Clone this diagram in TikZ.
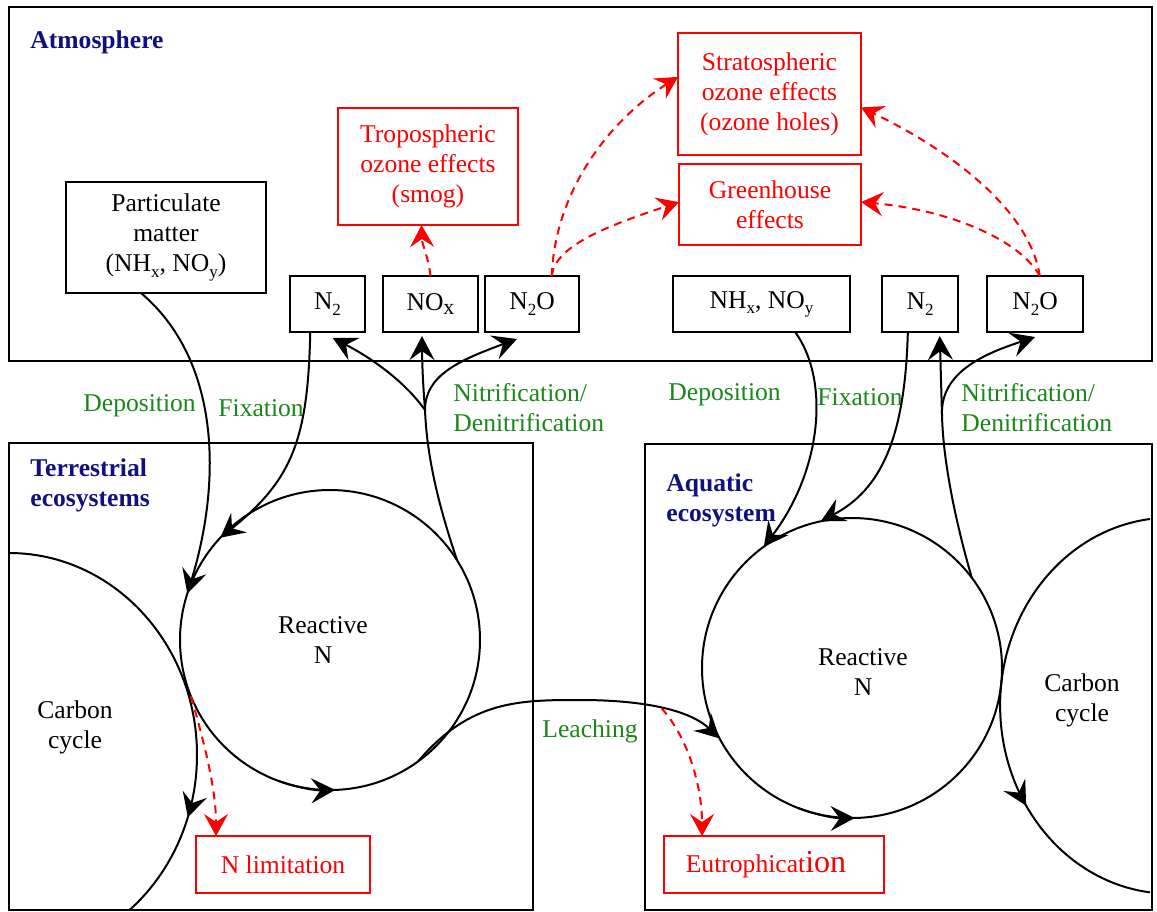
\documentclass[tikz,border=0pt]{standalone}
\usepackage{fontspec}
\setmainfont{Liberation Serif}
\usetikzlibrary{arrows.meta,calc,decorations.markings}
\definecolor{navyt}{RGB}{16,16,128}
\definecolor{greent}{RGB}{25,135,25}
\newcommand\sbs[1]{\raisebox{-0.45ex}{\fontsize{8.5}{8.5}\selectfont #1}}
\newcommand\sbx[1]{\raisebox{-0.4ex}{\fontsize{11}{11}\selectfont #1}}
\begin{document}
\begin{tikzpicture}[x=0.5pt,y=0.5pt,
  font=\fontsize{12.8}{15}\selectfont,
  bx/.style={draw, line width=1pt, inner sep=0pt, outer sep=0pt, align=center},
  rbx/.style={bx, draw=red, text=red},
  ttl/.style={font=\fontsize{12.8}{15}\selectfont\bfseries, text=navyt, align=left, inner sep=0pt, anchor=west},
  lbl/.style={text=greent, align=left, inner sep=0pt, anchor=west},
  txt/.style={align=center, inner sep=0pt},
  ln/.style={line width=1pt},
  tipb/.tip={Stealth[length=12pt,width=12.5pt,inset=4.5pt]},
  arr/.style={ln, -tipb},
  rarr/.style={line width=1pt, red, dash pattern=on 4pt off 3pt, -{Stealth[length=11pt,width=12pt,inset=4pt,sep=0pt]}},
  cyc/.style={circle, draw, line width=1pt, minimum size=150pt, inner sep=0pt, outer sep=0pt},
  markarr/.style={postaction={decorate}, decoration={markings, mark=at position #1 with {\arrow{tipb}}}}
]
\useasboundingbox (0,0) rectangle (1157,-911);

% big boxes
\node[bx, minimum width=571.5pt, minimum height=177pt] (atmbox) at (580.5,-184) {};
\node[bx, minimum width=262pt, minimum height=233.5pt] (terbox) at (271,-676.5) {};
\node[bx, minimum width=253.5pt, minimum height=233pt] (aqbox) at (898.5,-677) {};

% titles
\node[ttl] (atm) at (30,-42) {Atmosphere};
\node[ttl] (terr) at (30,-485) {Terrestrial\\ecosystems};
\node[ttl] (aqu) at (666,-500) {Aquatic\\ecosystem};

% atmosphere boxes
\node[bx, minimum width=100pt, minimum height=55.5pt] (pm) at (166,-237.5) {Particulate\\matter\\(NH\sbs{x}, NO\sbs{y})};
\node[bx, minimum width=37.5pt, minimum height=28pt] (n2l) at (327.5,-304) {N\sbs{2}};
\node[bx, minimum width=47.5pt, minimum height=28pt] (nox) at (430.5,-304) {NO\sbx{x}};
\node[bx, minimum width=47pt, minimum height=28pt] (n2ol) at (532,-304) {N\sbs{2}O};
\node[bx, minimum width=88.5pt, minimum height=28pt] (nhr) at (761.5,-304) {NH\sbs{x}, NO\sbs{y}};
\node[bx, minimum width=38pt, minimum height=28pt] (n2r) at (920,-304) {N\sbs{2}};
\node[bx, minimum width=48pt, minimum height=28pt] (n2or) at (1035,-304) {N\sbs{2}O};
\node[rbx, minimum width=90pt, minimum height=58.5pt] (trop) at (428,-166.5) {Tropospheric\\ozone effects\\(smog)};
\node[rbx, minimum width=91.5pt, minimum height=61pt] (strat) at (769.5,-94) {Stratospheric\\ozone effects\\(ozone holes)};
\node[rbx, minimum width=91pt, minimum height=40.5pt] (grn) at (770,-204.5) {Greenhouse\\effects};

% lower boxes
\node[rbx, minimum width=87pt, minimum height=28.5pt] (nlim) at (283,-864.5) {N limitation};
\node[rbx, minimum width=110pt, minimum height=28.5pt] (eu) at (774,-864.5) {\hspace*{-8pt}Eutrophicat{\fontsize{16}{16}\selectfont ion}};

% reactive N cycles
\node[cyc] (tc) at (330,-640) {};
\node[txt] (tct) at (323,-640) {Reactive\\N};
\node[cyc] (ta) at (852,-668) {};
\node[txt] (tat) at (863,-672) {Reactive\\N};
\draw[arr] (tc.250) arc[start angle=250, end angle=272, radius=75pt];
\draw[arr] (ta.249) arc[start angle=249, end angle=271, radius=75pt];

% carbon cycles
\draw[ln, markarr=0.77] (9,-553) arc[start angle=90, end angle=-50, x radius=94pt, y radius=101pt];
\node[txt] (cct) at (75,-727) {Carbon\\cycle};
\draw[ln, markarr=0.70] (1150,-519) arc[start angle=96.8, end angle=263.2, x radius=85pt, y radius=94pt];
\node[txt] (cca) at (1082,-700) {Carbon\\cycle};

% green labels
\node[lbl] (dep1) at (83,-406) {Deposition};
\node[lbl] (fix1) at (218,-408) {Fixation};
\node[lbl] (nit1) at (453,-408) {Nitrification/\\Denitrification};
\node[lbl] (dep2) at (668,-395) {Deposition};
\node[lbl] (fix2) at (817,-397) {Fixation};
\node[lbl] (nit2) at (961,-408) {Nitrification/\\Denitrification};
\node[lbl] (leach) at (542,-731) {Leaching};

% terrestrial connectors
\draw[arr] ($(pm.south west)!0.375!(pm.south east)$) .. controls (220,-360) and (222,-480) .. (tc.162);
\draw[arr] ($(n2l.south west)!0.27!(n2l.south east)$) .. controls (308,-440) and (292,-480) .. (tc.137);
\coordinate (brl) at (425,-410);
\draw[ln] (tc.32) .. controls (440,-510) and (427,-460) .. (brl);
\draw[arr] (brl) .. controls (400,-375) and (360,-352) .. ($(n2l.south west)!0.57!(n2l.south east)+(0,-6)$);
\draw[arr] (brl) .. controls (423,-385) and (422,-360) .. ($(nox.south)+(-8.5,-4)$);
\draw[arr] (brl) .. controls (425,-375) and (460,-360) .. ($(n2ol.south west)!0.34!(n2ol.south east)+(0,-7)$);

% aquatic connectors
\draw[arr] ($(nhr.south west)!0.69!(nhr.south east)$) .. controls (830,-380) and (822,-470) .. (ta.126);
\draw[arr] ($(n2r.south west)!0.34!(n2r.south east)$) .. controls (905,-440) and (880,-490) .. (ta.102);
\coordinate (brr) at (942,-415);
\draw[ln] (ta.37) .. controls (955,-520) and (943,-460) .. (brr);
\draw[arr] (brr) -- ($(n2r.south west)!0.76!(n2r.south east)+(0,-4)$);
\draw[arr] (brr) .. controls (940,-370) and (990,-352) .. ($(n2or.south)+(0,-5)$);

% leaching
\draw[arr] (tc.306) .. controls (470,-700) and (520,-700) .. (580,-700) .. controls (650,-700) and (692,-712) .. coordinate[pos=0.47] (lp) (ta.208);

% red dashed effects
\draw[rarr] (tc.202) .. controls (205,-745) and (216,-790) .. ($(nlim.north west)!0.115!(nlim.north east)$);
\draw[rarr] (lp) .. controls (690,-740) and (702,-790) .. ($(eu.north west)!0.173!(eu.north east)$);
\draw[rarr] (nox.north) .. controls (428,-255) and (422,-245) .. ($(trop.south west)!0.464!(trop.south east)$);
\draw[rarr] ($(n2ol.north west)!0.71!(n2ol.north east)$) .. controls (555,-190) and (610,-120) .. ($(strat.north west)!0.36!(strat.south west)$);
\draw[rarr] ($(n2ol.north west)!0.71!(n2ol.north east)$) .. controls (555,-245) and (610,-225) .. ($(grn.north west)!0.47!(grn.south west)$);
\draw[rarr] ($(n2or.north west)!0.55!(n2or.north east)$) .. controls (1030,-210) and (950,-150) .. ($(strat.north east)!0.61!(strat.south east)$);
\draw[rarr] ($(n2or.north west)!0.55!(n2or.north east)$) .. controls (1020,-240) and (950,-210) .. ($(grn.north east)!0.47!(grn.south east)$);
\end{tikzpicture}
\end{document}
